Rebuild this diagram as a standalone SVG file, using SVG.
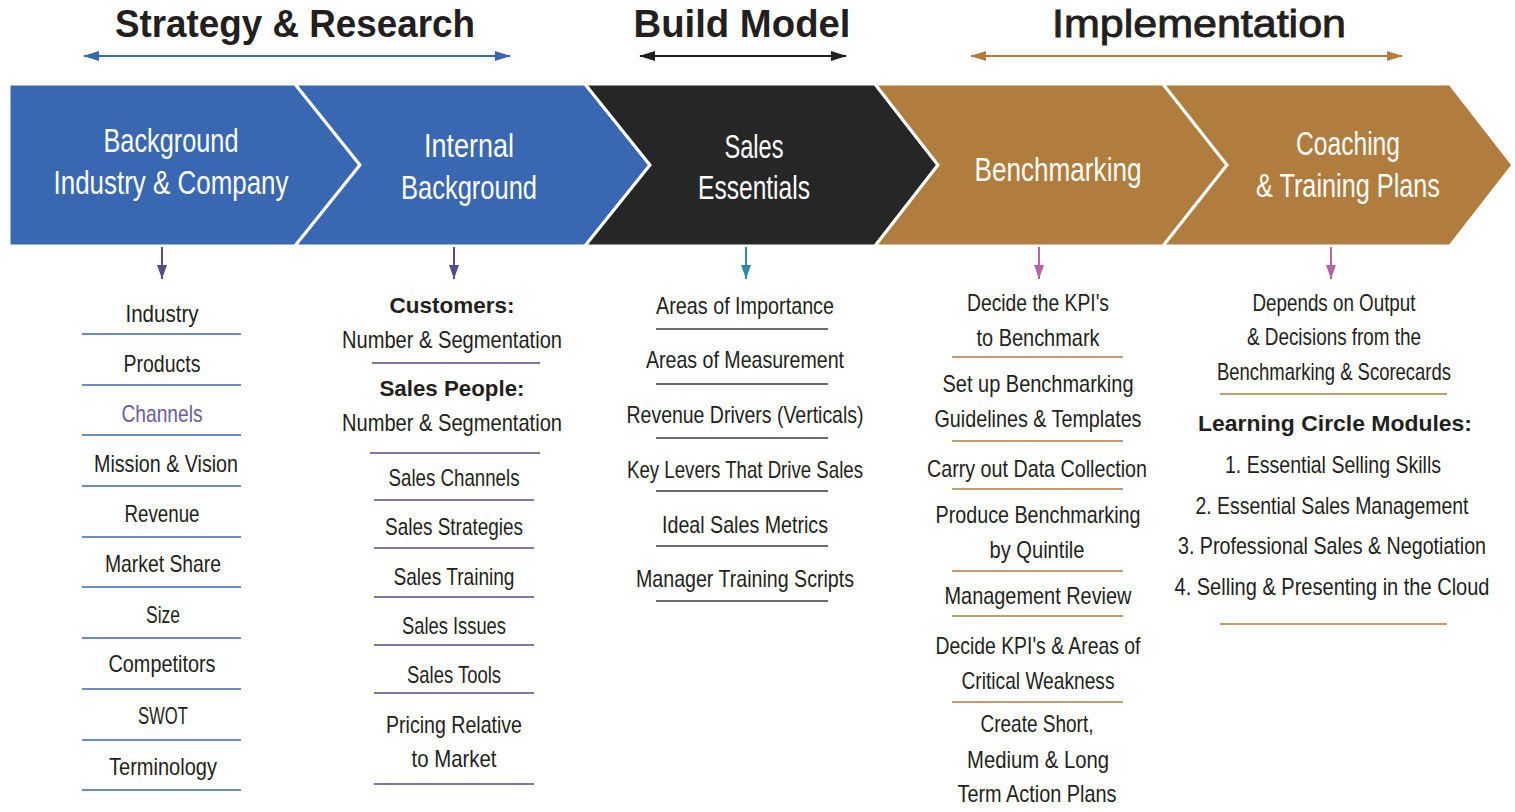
<svg xmlns="http://www.w3.org/2000/svg" width="1515" height="812" viewBox="0 0 1515 812">
  <defs>
    <style>
      text { font-family: "Liberation Sans", Arial, sans-serif; text-anchor: middle; }
      .hdr { font-size: 38px; font-weight: bold; fill: #231f20; }
      .hdrs { font-size: 38px; font-weight: normal; fill: #231f20; stroke: #231f20; stroke-width: 0.9; }
      .chev { stroke: #ffffff; stroke-width: 3; stroke-linejoin: miter; }
      .ct { font-size: 33px; fill: #ffffff; }
      .it { font-size: 24px; fill: #231f20; }
      .bt { font-size: 22px; font-weight: bold; fill: #231f20; }
      .sep { stroke-width: 1.6; fill: none; }
      .blue { stroke: #3a67b1; }
      .purple { stroke: #5b4a8b; }
      .dark { stroke: #3a3a3a; }
      .brown { stroke: #b07d3e; }
    </style>
    <marker id="ahBlue" viewBox="0 0 16 10" refX="15" refY="5" markerWidth="16" markerHeight="10" markerUnits="userSpaceOnUse" orient="auto-start-reverse">
      <path d="M0,0 L16,5 L0,10 Z" fill="#3a67b1"/>
    </marker>
    <marker id="ahDark" viewBox="0 0 16 10" refX="15" refY="5" markerWidth="16" markerHeight="10" markerUnits="userSpaceOnUse" orient="auto-start-reverse">
      <path d="M0,0 L16,5 L0,10 Z" fill="#231f20"/>
    </marker>
    <marker id="ahBrown" viewBox="0 0 16 10" refX="15" refY="5" markerWidth="16" markerHeight="10" markerUnits="userSpaceOnUse" orient="auto-start-reverse">
      <path d="M0,0 L16,5 L0,10 Z" fill="#b07d3e"/>
    </marker>
    <marker id="dnPurple" viewBox="0 0 14 10" refX="14" refY="5" markerWidth="14" markerHeight="10" markerUnits="userSpaceOnUse" orient="auto">
      <path d="M0,0 L14,5 L0,10 Z" fill="#5b4a8b"/>
    </marker>
    <marker id="dnTeal" viewBox="0 0 14 10" refX="14" refY="5" markerWidth="14" markerHeight="10" markerUnits="userSpaceOnUse" orient="auto">
      <path d="M0,0 L14,5 L0,10 Z" fill="#2e8ba0"/>
    </marker>
    <marker id="dnPink" viewBox="0 0 14 10" refX="14" refY="5" markerWidth="14" markerHeight="10" markerUnits="userSpaceOnUse" orient="auto">
      <path d="M0,0 L14,5 L0,10 Z" fill="#b565a7"/>
    </marker>
  </defs>

  <rect width="1515" height="812" fill="#ffffff"/>

  <!-- Phase headings -->
  <g id="phase-strategy">
    <text class="hdr" x="295" y="37" textLength="360" lengthAdjust="spacingAndGlyphs">Strategy &amp; Research</text>
  </g>
  <g id="phase-build">
    <text class="hdr" x="742" y="37" textLength="217" lengthAdjust="spacingAndGlyphs">Build Model</text>
  </g>
  <g id="phase-implementation">
    <text class="hdrs" x="1199" y="37" textLength="294" lengthAdjust="spacingAndGlyphs">Implementation</text>
  </g>

  <!-- Process chevrons -->
  <g id="step-background">
    <polygon class="chev" fill="#3a67b1" points="9,84 295,84 360,165 295,246 9,246"/>
    <text class="ct" x="171" y="152" textLength="135" lengthAdjust="spacingAndGlyphs">Background</text>
    <text class="ct" x="171" y="194" textLength="235" lengthAdjust="spacingAndGlyphs">Industry &amp; Company</text>
  </g>
  <g id="step-internal">
    <polygon class="chev" fill="#3a67b1" points="295,84 585,84 650,165 585,246 295,246 360,165"/>
    <text class="ct" x="469" y="157" textLength="90" lengthAdjust="spacingAndGlyphs">Internal</text>
    <text class="ct" x="469" y="199" textLength="136" lengthAdjust="spacingAndGlyphs">Background</text>
  </g>
  <g id="step-essentials">
    <polygon class="chev" fill="#262626" points="585,84 875,84 938,165 875,246 585,246 650,165"/>
    <text class="ct" x="754" y="158" textLength="59" lengthAdjust="spacingAndGlyphs">Sales</text>
    <text class="ct" x="754" y="199" textLength="112" lengthAdjust="spacingAndGlyphs">Essentials</text>
  </g>
  <g id="step-benchmarking">
    <polygon class="chev" fill="#b07d3e" points="875,84 1163,84 1227,165 1163,246 875,246 938,165"/>
    <text class="ct" x="1058" y="181" textLength="167" lengthAdjust="spacingAndGlyphs">Benchmarking</text>
  </g>
  <g id="step-coaching">
    <polygon class="chev" fill="#b07d3e" points="1163,84 1450,84 1513,165 1450,246 1163,246 1227,165"/>
    <text class="ct" x="1348" y="155" textLength="104" lengthAdjust="spacingAndGlyphs">Coaching</text>
    <text class="ct" x="1348" y="197" textLength="184" lengthAdjust="spacingAndGlyphs">&amp; Training Plans</text>
  </g>

  <!-- Connectors -->
  <g id="connectors" fill="none" stroke-width="2">
    <line x1="84" y1="56" x2="510" y2="56" stroke="#3a67b1" marker-start="url(#ahBlue)" marker-end="url(#ahBlue)"/>
    <line x1="640" y1="56" x2="846" y2="56" stroke="#231f20" marker-start="url(#ahDark)" marker-end="url(#ahDark)"/>
    <line x1="971" y1="56" x2="1402" y2="56" stroke="#b07d3e" marker-start="url(#ahBrown)" marker-end="url(#ahBrown)"/>
    <line x1="162" y1="247" x2="162" y2="279" stroke="#5b4a8b" marker-end="url(#dnPurple)"/>
    <line x1="454" y1="247" x2="454" y2="279" stroke="#5b4a8b" marker-end="url(#dnPurple)"/>
    <line x1="746" y1="247" x2="746" y2="279" stroke="#2e8ba0" marker-end="url(#dnTeal)"/>
    <line x1="1039" y1="247" x2="1039" y2="279" stroke="#b565a7" marker-end="url(#dnPink)"/>
    <line x1="1331" y1="247" x2="1331" y2="279" stroke="#b565a7" marker-end="url(#dnPink)"/>
  </g>

  <!-- Column 1: industry & company items -->
  <g id="list-background">
    <text class="it" x="162" y="322" textLength="73" lengthAdjust="spacingAndGlyphs">Industry</text>
    <line class="sep blue" x1="82" y1="334" x2="241" y2="334"/>
    <text class="it" x="162" y="372" textLength="77" lengthAdjust="spacingAndGlyphs">Products</text>
    <line class="sep blue" x1="82" y1="385" x2="241" y2="385"/>
    <text class="it" x="162" y="422" textLength="81" lengthAdjust="spacingAndGlyphs" style="fill:#6c5b9e">Channels</text>
    <line class="sep blue" x1="82" y1="435" x2="241" y2="435"/>
    <text class="it" x="166" y="472" textLength="144" lengthAdjust="spacingAndGlyphs">Mission &amp; Vision</text>
    <line class="sep blue" x1="82" y1="486" x2="241" y2="486"/>
    <text class="it" x="162" y="522" textLength="75" lengthAdjust="spacingAndGlyphs">Revenue</text>
    <line class="sep blue" x1="82" y1="537" x2="241" y2="537"/>
    <text class="it" x="163" y="572" textLength="116" lengthAdjust="spacingAndGlyphs">Market Share</text>
    <line class="sep blue" x1="82" y1="587" x2="241" y2="587"/>
    <text class="it" x="163" y="623" textLength="34" lengthAdjust="spacingAndGlyphs">Size</text>
    <line class="sep blue" x1="82" y1="638" x2="241" y2="638"/>
    <text class="it" x="162" y="672" textLength="107" lengthAdjust="spacingAndGlyphs">Competitors</text>
    <line class="sep blue" x1="82" y1="689" x2="241" y2="689"/>
    <text class="it" x="163" y="724" textLength="50" lengthAdjust="spacingAndGlyphs">SWOT</text>
    <line class="sep blue" x1="82" y1="740" x2="241" y2="740"/>
    <text class="it" x="163" y="775" textLength="108" lengthAdjust="spacingAndGlyphs">Terminology</text>
    <line class="sep blue" x1="82" y1="790" x2="241" y2="790"/>
  </g>

  <!-- Column 2: internal background items -->
  <g id="list-internal">
    <text class="bt" x="452" y="313" textLength="125" lengthAdjust="spacingAndGlyphs">Customers:</text>
    <text class="it" x="452" y="348" textLength="220" lengthAdjust="spacingAndGlyphs">Number &amp; Segmentation</text>
    <line class="sep purple" x1="372" y1="363" x2="540" y2="363"/>
    <text class="bt" x="452" y="396" textLength="145" lengthAdjust="spacingAndGlyphs">Sales People:</text>
    <text class="it" x="452" y="431" textLength="220" lengthAdjust="spacingAndGlyphs">Number &amp; Segmentation</text>
    <line class="sep purple" x1="370" y1="453" x2="540" y2="453"/>
    <text class="it" x="454" y="486" textLength="131" lengthAdjust="spacingAndGlyphs">Sales Channels</text>
    <line class="sep purple" x1="374" y1="500" x2="534" y2="500"/>
    <text class="it" x="454" y="535" textLength="138" lengthAdjust="spacingAndGlyphs">Sales Strategies</text>
    <line class="sep purple" x1="374" y1="548" x2="534" y2="548"/>
    <text class="it" x="454" y="585" textLength="121" lengthAdjust="spacingAndGlyphs">Sales Training</text>
    <line class="sep purple" x1="374" y1="597" x2="534" y2="597"/>
    <text class="it" x="454" y="634" textLength="104" lengthAdjust="spacingAndGlyphs">Sales Issues</text>
    <line class="sep purple" x1="374" y1="645" x2="534" y2="645"/>
    <text class="it" x="454" y="683" textLength="94" lengthAdjust="spacingAndGlyphs">Sales Tools</text>
    <line class="sep purple" x1="374" y1="693" x2="534" y2="693"/>
    <text class="it" x="454" y="733" textLength="136" lengthAdjust="spacingAndGlyphs">Pricing Relative</text>
    <text class="it" x="454" y="767" textLength="85" lengthAdjust="spacingAndGlyphs">to Market</text>
    <line class="sep purple" x1="374" y1="784" x2="534" y2="784"/>
  </g>

  <!-- Column 3: sales essentials items -->
  <g id="list-essentials">
    <text class="it" x="745" y="314" textLength="178" lengthAdjust="spacingAndGlyphs">Areas of Importance</text>
    <line class="sep dark" x1="656" y1="329" x2="828" y2="329"/>
    <text class="it" x="745" y="368" textLength="198" lengthAdjust="spacingAndGlyphs">Areas of Measurement</text>
    <line class="sep dark" x1="656" y1="384" x2="828" y2="384"/>
    <text class="it" x="745" y="423" textLength="237" lengthAdjust="spacingAndGlyphs">Revenue Drivers (Verticals)</text>
    <line class="sep dark" x1="656" y1="438" x2="828" y2="438"/>
    <text class="it" x="745" y="478" textLength="236" lengthAdjust="spacingAndGlyphs">Key Levers That Drive Sales</text>
    <line class="sep dark" x1="656" y1="491" x2="828" y2="491"/>
    <text class="it" x="745" y="533" textLength="166" lengthAdjust="spacingAndGlyphs">Ideal Sales Metrics</text>
    <line class="sep dark" x1="656" y1="546" x2="828" y2="546"/>
    <text class="it" x="745" y="587" textLength="218" lengthAdjust="spacingAndGlyphs">Manager Training Scripts</text>
    <line class="sep dark" x1="656" y1="601" x2="828" y2="601"/>
  </g>

  <!-- Column 4: benchmarking steps -->
  <g id="list-benchmarking">
    <text class="it" x="1038" y="311" textLength="142" lengthAdjust="spacingAndGlyphs">Decide the KPI's</text>
    <text class="it" x="1038" y="346" textLength="123" lengthAdjust="spacingAndGlyphs">to Benchmark</text>
    <line class="sep brown" x1="952" y1="357" x2="1123" y2="357"/>
    <text class="it" x="1038" y="392" textLength="191" lengthAdjust="spacingAndGlyphs">Set up Benchmarking</text>
    <text class="it" x="1038" y="427" textLength="207" lengthAdjust="spacingAndGlyphs">Guidelines &amp; Templates</text>
    <line class="sep brown" x1="952" y1="441" x2="1123" y2="441"/>
    <text class="it" x="1037" y="477" textLength="220" lengthAdjust="spacingAndGlyphs">Carry out Data Collection</text>
    <line class="sep brown" x1="952" y1="489" x2="1123" y2="489"/>
    <text class="it" x="1038" y="523" textLength="205" lengthAdjust="spacingAndGlyphs">Produce Benchmarking</text>
    <text class="it" x="1037" y="558" textLength="95" lengthAdjust="spacingAndGlyphs">by Quintile</text>
    <line class="sep brown" x1="952" y1="571" x2="1123" y2="571"/>
    <text class="it" x="1038" y="604" textLength="187" lengthAdjust="spacingAndGlyphs">Management Review</text>
    <line class="sep brown" x1="952" y1="616" x2="1123" y2="616"/>
    <text class="it" x="1038" y="654" textLength="205" lengthAdjust="spacingAndGlyphs">Decide KPI's &amp; Areas of</text>
    <text class="it" x="1038" y="689" textLength="153" lengthAdjust="spacingAndGlyphs">Critical Weakness</text>
    <line class="sep brown" x1="952" y1="702" x2="1123" y2="702"/>
    <text class="it" x="1037" y="732" textLength="113" lengthAdjust="spacingAndGlyphs">Create Short,</text>
    <text class="it" x="1038" y="768" textLength="142" lengthAdjust="spacingAndGlyphs">Medium &amp; Long</text>
    <text class="it" x="1037" y="802" textLength="159" lengthAdjust="spacingAndGlyphs">Term Action Plans</text>
  </g>

  <!-- Column 5: coaching & training plans -->
  <g id="list-coaching">
    <text class="it" x="1334" y="311" textLength="163" lengthAdjust="spacingAndGlyphs">Depends on Output</text>
    <text class="it" x="1334" y="345" textLength="174" lengthAdjust="spacingAndGlyphs">&amp; Decisions from the</text>
    <text class="it" x="1334" y="380" textLength="234" lengthAdjust="spacingAndGlyphs">Benchmarking &amp; Scorecards</text>
    <line class="sep brown" x1="1220" y1="394" x2="1447" y2="394"/>
    <text class="bt" x="1335" y="431" textLength="274" lengthAdjust="spacingAndGlyphs">Learning Circle Modules:</text>
    <text class="it" x="1333" y="473" textLength="216" lengthAdjust="spacingAndGlyphs">1. Essential Selling Skills</text>
    <text class="it" x="1332" y="514" textLength="273" lengthAdjust="spacingAndGlyphs">2. Essential Sales Management</text>
    <text class="it" x="1332" y="554" textLength="308" lengthAdjust="spacingAndGlyphs">3. Professional Sales &amp; Negotiation</text>
    <text class="it" x="1332" y="595" textLength="315" lengthAdjust="spacingAndGlyphs">4. Selling &amp; Presenting in the Cloud</text>
    <line class="sep brown" x1="1220" y1="624" x2="1447" y2="624"/>
  </g>
</svg>
